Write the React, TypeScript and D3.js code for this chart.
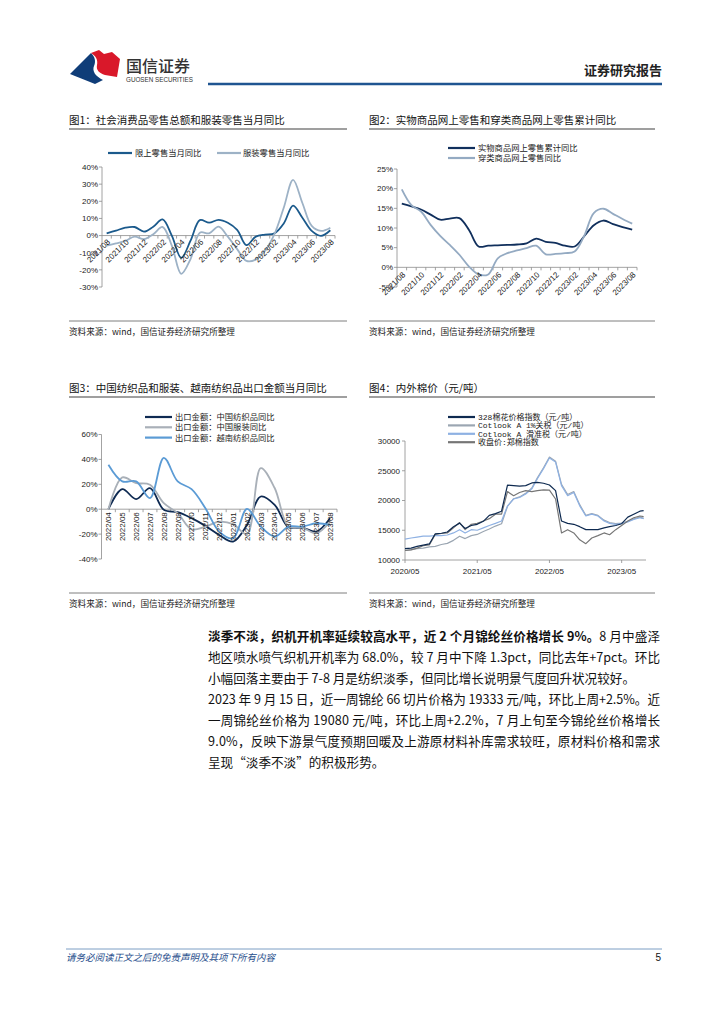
import * as d3 from 'd3';

const FONT_CN = '"Noto Sans CJK SC", "Noto Sans", sans-serif';
const FONT_NUM = '"Liberation Sans", Arial, sans-serif';
const FONT_MONO = '"Liberation Mono", "Noto Sans CJK SC", monospace';

// 图1 / 图2: 2021/08 - 2023/08
const monthsA = [
  '2021/08', '2021/09', '2021/10', '2021/11', '2021/12', '2022/01', '2022/02', '2022/03',
  '2022/04', '2022/05', '2022/06', '2022/07', '2022/08', '2022/09', '2022/10', '2022/11',
  '2022/12', '2023/01', '2023/02', '2023/03', '2023/04', '2023/05', '2023/06', '2023/07', '2023/08',
];
const retailTotal = [1.3, 2.9, 4.6, 5.0, 2.3, 5.2, 9.4, -0.2, -13.0, -3.0, 9.0, 7.5, 9.2, 7.5, 3.3, -5.6, -0.6, 0.6, 1.3, 7.0, 17.5, 10.4, 2.7, -0.2, 3.1];
const retailApparel = [-5.8, -4.6, -3.1, -0.6, -2.1, 0.8, 5.0, -6.0, -22.3, -13.7, 1.7, 1.3, 5.2, -0.6, -7.9, -14.8, -14.0, -8.8, 0.8, 16.2, 32.5, 19.0, 5.6, 2.7, 4.6];
const onlineAll = [16.2, 15.5, 14.7, 13.4, 12.1, 12.4, 12.5, 9.5, 5.3, 5.5, 5.6, 5.7, 5.8, 6.1, 7.3, 6.5, 6.2, 5.5, 5.3, 7.9, 10.7, 11.9, 11.0, 10.2, 9.6];
const onlineApparel = [19.8, 15.8, 14.2, 10.8, 8.0, 5.7, 3.2, 0.2, -1.8, -1.8, 2.3, 3.6, 4.3, 4.9, 5.5, 3.3, 3.4, 3.6, 4.0, 8.0, 13.8, 14.9, 13.6, 12.3, 11.1];

// 图3: 2022/04 - 2023/08
const monthsB = [
  '2022/04', '2022/05', '2022/06', '2022/07', '2022/08', '2022/09', '2022/10', '2022/11', '2022/12',
  '2023/01', '2023/02', '2023/03', '2023/04', '2023/05', '2023/06', '2023/07', '2023/08',
];
const cnTextile = [0, 16.1, 8.1, 16.9, -0.5, -2.4, -7.2, -13.4, -20.7, -26.0, -12.6, 10.2, 3.5, -14.5, -14.8, -18.0, -7.2];
const cnApparel = [0, 25.5, 21.0, 19.6, 4.8, -3.2, -16.1, -14.0, -10.0, -12.0, -20.0, 33.0, 17.0, -14.0, -14.8, -19.3, -10.0];
const vnTextile = [35.7, 22.3, 22.3, 8.9, 41.3, 22.3, 16.1, 0.8, -18.0, -23.4, 0.3, -14.0, -22.0, -14.0, -14.0, -11.3, -12.6];

// 图4: 内外棉价
const cottonDates = [
  '2020-05-01', '2020-06-01', '2020-07-01', '2020-08-01', '2020-09-01', '2020-10-01', '2020-11-01',
  '2020-12-01', '2021-01-01', '2021-02-01', '2021-03-01', '2021-04-01', '2021-05-01', '2021-06-01',
  '2021-07-01', '2021-08-01', '2021-09-01', '2021-10-01', '2021-11-01', '2021-12-01', '2022-01-01',
  '2022-02-01', '2022-03-01', '2022-04-01', '2022-05-01', '2022-06-01', '2022-07-01', '2022-08-01',
  '2022-09-01', '2022-10-01', '2022-11-01', '2022-12-01', '2023-01-01', '2023-02-01', '2023-03-01',
  '2023-04-01', '2023-05-01', '2023-06-01', '2023-07-01', '2023-08-01', '2023-08-20',
];
const cc328 = [11900, 12000, 12300, 12500, 12700, 14400, 14500, 14700, 15600, 16200, 15300, 15800, 16000, 16500, 17500, 17800, 18200, 22600, 22500, 22400, 22500, 22950, 23050, 22900, 22600, 21650, 16550, 16150, 16000, 15600, 15100, 15100, 15100, 15400, 15600, 15800, 16100, 17200, 17700, 18200, 18300];
const cotlook1 = [11600, 11750, 11900, 12000, 12200, 12300, 12600, 12800, 13300, 14000, 13600, 14100, 14300, 14800, 15200, 15700, 16100, 19000, 20300, 20600, 21200, 22100, 23800, 25500, 27300, 26600, 22700, 21000, 21500, 19300, 17500, 17800, 17500, 16700, 16300, 16100, 16200, 16500, 16900, 17200, 17000];
const cotlookSlide = [13500, 13700, 13850, 14000, 14000, 14100, 14100, 14200, 14550, 15100, 14550, 15100, 15000, 15400, 15800, 16150, 16550, 19100, 20250, 20500, 21100, 21950, 23650, 25350, 27150, 26450, 22500, 20800, 21350, 19100, 17400, 17700, 17400, 16550, 16150, 16000, 16150, 16400, 16800, 17100, 16950];
const zceCotton = [11600, 11700, 12000, 12400, 12550, 14300, 14450, 14550, 15400, 16300, 15100, 16000, 16150, 16550, 16950, 17700, 17700, 21500, 20800, 21350, 21650, 21500, 21650, 21800, 21750, 20250, 14550, 15100, 14550, 13400, 12750, 13700, 14100, 14550, 14250, 15100, 15800, 16550, 17100, 17400, 17300];
const cottonTicks = ['2020-05-01', '2021-05-01', '2022-05-01', '2023-05-01'];

const para1 = [
  '地区喷水喷气织机开机率为 68.0%，较 7 月中下降 1.3pct，同比去年+7pct。环比',
  '小幅回落主要由于 7-8 月是纺织淡季，但同比增长说明景气度回升状况较好。',
];
const para2 = [
  '2023 年 9 月 15 日，近一周锦纶 66 切片价格为 19333 元/吨，环比上周+2.5%。近',
  '一周锦纶丝价格为 19080 元/吨，环比上周+2.2%，7 月上旬至今锦纶丝价格增长',
  '9.0%，反映下游景气度预期回暖及上游原材料补库需求较旺，原材料价格和需求',
  '呈现“淡季不淡”的积极形势。',
];

type Series = { name: string; values: number[]; color: string; width: number };

const SOURCE = '资料来源：wind，国信证券经济研究所整理';

function Frame({ x0, x1, titleY, sourceY, title }: { x0: number; x1: number; titleY: number; sourceY: number; title: string }) {
  return (
    <g>
      <text x={x0} y={titleY} fontFamily={FONT_CN} fontSize={10.5} fill="#111">{title}</text>
      <line x1={x0} x2={x1} y1={titleY + 5} y2={titleY + 5} stroke="#7f7f7f" strokeWidth={1.3} />
      <line x1={x0} x2={x1} y1={sourceY} y2={sourceY} stroke="#7f7f7f" strokeWidth={1} />
      <text x={x0} y={sourceY + 14} fontFamily={FONT_CN} fontSize={8.6} fill="#222">{SOURCE}</text>
    </g>
  );
}

function CategoryChart({
  cats, series, yDomain, yStep, left, right, top, bottom, every, rotate, labelOffset, fmt,
}: {
  cats: string[]; series: Series[]; yDomain: [number, number]; yStep: number;
  left: number; right: number; top: number; bottom: number; every: number; rotate: number;
  labelOffset: number; fmt: (v: number) => string;
}) {
  const x = d3.scaleBand<number>().domain(cats.map((_, i) => i)).range([left, right]);
  const cx = (i: number) => (x(i) ?? 0) + x.bandwidth() / 2;
  const y = d3.scaleLinear().domain(yDomain).range([bottom, top]);
  const ticks = d3.range(yDomain[0], yDomain[1] + 0.001, yStep);
  const line = d3.line<number>().x((_, i) => cx(i)).y((d) => y(d)).curve(d3.curveCatmullRom.alpha(0.5));
  const y0 = y(0);
  return (
    <g>
      <line x1={left} x2={left} y1={top} y2={bottom} stroke="#8c8c8c" strokeWidth={0.8} />
      {ticks.map((t) => (
        <g key={t}>
          <line x1={left - 3} x2={left} y1={y(t)} y2={y(t)} stroke="#8c8c8c" strokeWidth={0.8} />
          <text x={left - 4} y={y(t)} dy="0.35em" textAnchor="end" fontFamily={FONT_NUM} fontSize={8} fill="#222">{fmt(t)}</text>
        </g>
      ))}
      <line x1={left} x2={right} y1={y0} y2={y0} stroke="#8c8c8c" strokeWidth={0.8} />
      {cats.map((_, i) => (
        <line key={i} x1={(x(i) ?? 0) + x.bandwidth()} x2={(x(i) ?? 0) + x.bandwidth()} y1={y0} y2={y0 + 3} stroke="#8c8c8c" strokeWidth={0.8} />
      ))}
      {series.map((s) => (
        <path key={s.name} d={line(s.values) ?? ''} fill="none" stroke={s.color} strokeWidth={s.width} strokeLinejoin="round" />
      ))}
      {cats.map((c, i) => (i % every === 0 ? (
        <text key={c} transform={`translate(${cx(i) + (rotate === -90 ? 0 : 2)},${y0 + labelOffset}) rotate(${rotate})`}
          dy="0.35em" textAnchor="end" fontFamily={FONT_NUM} fontSize={8} fill="#222">{c}</text>
      ) : null))}
    </g>
  );
}

function Legend({ items, x, y, gap, font, size }: { items: Series[]; x: number; y: number; gap: number; font: string; size: number }) {
  return (
    <g>
      {items.map((s, i) => (
        <g key={s.name}>
          <line x1={x} x2={x + 27} y1={y + i * gap} y2={y + i * gap} stroke={s.color} strokeWidth={2.2} />
          <text x={x + 30} y={y + i * gap} dy="0.35em" fontFamily={font} fontSize={size} fill="#222">{s.name}</text>
        </g>
      ))}
    </g>
  );
}

function CottonChart({ series }: { series: Series[] }) {
  const left = 405, right = 646, top = 441, bottom = 560;
  const parse = d3.timeParse('%Y-%m-%d');
  const dates = cottonDates.map((d) => parse(d) as Date);
  const x = d3.scaleTime().domain([parse('2020-05-01') as Date, parse('2023-09-01') as Date]).range([left, right]);
  const y = d3.scaleLinear().domain([10000, 30000]).range([bottom, top]);
  const line = d3.line<number>().x((_, i) => x(dates[i])).y((d) => y(d));
  return (
    <g>
      <line x1={left} x2={left} y1={top} y2={bottom} stroke="#8c8c8c" strokeWidth={0.8} />
      {d3.range(10000, 30001, 5000).map((t) => (
        <g key={t}>
          <line x1={left - 3} x2={left} y1={y(t)} y2={y(t)} stroke="#8c8c8c" strokeWidth={0.8} />
          <text x={left - 5} y={y(t)} dy="0.35em" textAnchor="end" fontFamily={FONT_NUM} fontSize={8} fill="#222">{t}</text>
        </g>
      ))}
      <line x1={left} x2={right} y1={bottom} y2={bottom} stroke="#8c8c8c" strokeWidth={0.8} />
      {cottonTicks.map((t) => {
        const d = parse(t) as Date;
        return (
          <g key={t}>
            <line x1={x(d)} x2={x(d)} y1={bottom} y2={bottom + 3} stroke="#8c8c8c" strokeWidth={0.8} />
            <text x={x(d)} y={bottom + 11} dy="0.35em" textAnchor="middle" fontFamily={FONT_NUM} fontSize={8} fill="#222">{d3.timeFormat('%Y/%m')(d)}</text>
          </g>
        );
      })}
      {series.map((s) => (
        <path key={s.name} d={line(s.values) ?? ''} fill="none" stroke={s.color} strokeWidth={s.width} strokeLinejoin="round" />
      ))}
    </g>
  );
}

const pct = (v: number) => `${Math.round(v)}%`;

export default function App() {
  const s1: Series[] = [
    { name: '限上零售当月同比', values: retailTotal, color: '#1b5a8c', width: 1.8 },
    { name: '服装零售当月同比', values: retailApparel, color: '#9db2c6', width: 1.8 },
  ];
  const s2: Series[] = [
    { name: '实物商品网上零售累计同比', values: onlineAll, color: '#102f5c', width: 1.8 },
    { name: '穿类商品网上零售同比', values: onlineApparel, color: '#94aac2', width: 1.8 },
  ];
  const s3: Series[] = [
    { name: '出口金额：中国纺织品同比', values: cnTextile, color: '#0e2a52', width: 1.8 },
    { name: '出口金额：中国服装同比', values: cnApparel, color: '#a9b0b8', width: 1.8 },
    { name: '出口金额：越南纺织品同比', values: vnTextile, color: '#5b9bd5', width: 1.8 },
  ];
  const s4: Series[] = [
    { name: '328棉花价格指数（元/吨）', values: cc328, color: '#0e2a50', width: 1.2 },
    { name: 'Cotlook A 1%关税（元/吨）', values: cotlook1, color: '#9ba6b2', width: 1.2 },
    { name: 'Cotlook A 滑准税（元/吨）', values: cotlookSlide, color: '#8eb1e3', width: 1.2 },
    { name: '收盘价:郑棉指数', values: zceCotton, color: '#767676', width: 1.2 },
  ];
  // draw order of the cotton chart: light lines below
  const s4Draw = [s4[1], s4[2], s4[3], s4[0]];

  return (
    <svg width={724} height={1024} viewBox="0 0 724 1024" style={{ position: 'absolute', left: 0, top: 0, background: '#fff' }}>
      {/* header */}
      <path d="M70,74 L91,53 C95,57 96,61 94,66 C92,71 95,76 103,80 L95,84 Z" fill="#0f3d78" />
      <path d="M91,53 L99,50 L104,54 L112,52 L120,59 L117,77 L105,75 C99,73 96,70 97,65 C98,60 96,56 91,53 Z" fill="#d9182a" />
      <text x={126} y={72} fontFamily={FONT_CN} fontSize={16} fontWeight={500} fill="#333">国信证券</text>
      <text x={126} y={82} fontFamily={FONT_NUM} fontSize={6.3} fill="#333">GUOSEN SECURITIES</text>
      <line x1={208} x2={662} y1={84} y2={84} stroke="#1f5591" strokeWidth={2.5} />
      <text x={662} y={75} textAnchor="end" fontFamily={FONT_CN} fontSize={13} fontWeight={700} fill="#222">证券研究报告</text>

      {/* 图1 */}
      <Frame x0={69} x1={347} titleY={124} sourceY={321} title="图1：社会消费品零售总额和服装零售当月同比" />
      <g>
        {s1.map((s, i) => (
          <g key={s.name}>
            <line x1={108 + i * 109} x2={132 + i * 109} y1={153} y2={153} stroke={s.color} strokeWidth={2.2} />
            <text x={135 + i * 108} y={153} dy="0.35em" fontFamily={FONT_CN} fontSize={8.3} fill="#222">{s.name}</text>
          </g>
        ))}
      </g>
      <CategoryChart cats={monthsA} series={s1} yDomain={[-30, 40]} yStep={10} left={102} right={335} top={167} bottom={287}
        every={2} rotate={-45} labelOffset={5} fmt={pct} />

      {/* 图2 */}
      <Frame x0={369} x1={655} titleY={124} sourceY={321} title="图2：实物商品网上零售和穿类商品网上零售累计同比" />
      <Legend items={s2} x={448} y={148} gap={10} font={FONT_CN} size={8.3} />
      <CategoryChart cats={monthsA} series={s2} yDomain={[-5, 25]} yStep={5} left={397} right={637} top={169} bottom={287}
        every={2} rotate={-45} labelOffset={6} fmt={pct} />

      {/* 图3 */}
      <Frame x0={69} x1={347} titleY={392} sourceY={593} title="图3：中国纺织品和服装、越南纺织品出口金额当月同比" />
      <Legend items={s3} x={145} y={417} gap={10.3} font={FONT_CN} size={8.3} />
      <CategoryChart cats={monthsB} series={s3} yDomain={[-40, 60]} yStep={20} left={101.5} right={337} top={434.5} bottom={559}
        every={1} rotate={-90} labelOffset={3} fmt={pct} />

      {/* 图4 */}
      <Frame x0={369} x1={655} titleY={392} sourceY={593} title="图4：内外棉价（元/吨）" />
      <Legend items={s4} x={448} y={417} gap={8.4} font={FONT_MONO} size={8} />
      <CottonChart series={s4Draw} />

      {/* 正文 */}
      <text x={208} y={641} textLength={452} lengthAdjust="spacing" fontFamily={FONT_CN} fontSize={12.6} fill="#111">
        <tspan fontWeight={700}>淡季不淡，织机开机率延续较高水平，近 2 个月锦纶丝价格增长 9%。</tspan>
        <tspan>8 月中盛泽</tspan>
      </text>
      {para1.map((t, i) => (
        <text key={t} x={208} y={662 + i * 20.5} textLength={i < para1.length - 1 ? 452 : undefined} lengthAdjust="spacing"
          fontFamily={FONT_CN} fontSize={12.6} fill="#111">{t}</text>
      ))}
      {para2.map((t, i) => (
        <text key={t} x={208} y={704 + i * 21} textLength={i < para2.length - 1 ? 452 : undefined} lengthAdjust="spacing"
          fontFamily={FONT_CN} fontSize={12.6} fill="#111">{t}</text>
      ))}

      {/* footer */}
      <line x1={66} x2={662} y1={949} y2={949} stroke="#5b85b5" strokeWidth={0.8} />
      <text x={66} y={961} fontFamily={FONT_CN} fontSize={9.5} fontStyle="italic" fill="#1f4e8c">请务必阅读正文之后的免责声明及其项下所有内容</text>
      <text x={661} y={961} textAnchor="end" fontFamily={FONT_NUM} fontSize={10} fill="#111">5</text>
    </svg>
  );
}
